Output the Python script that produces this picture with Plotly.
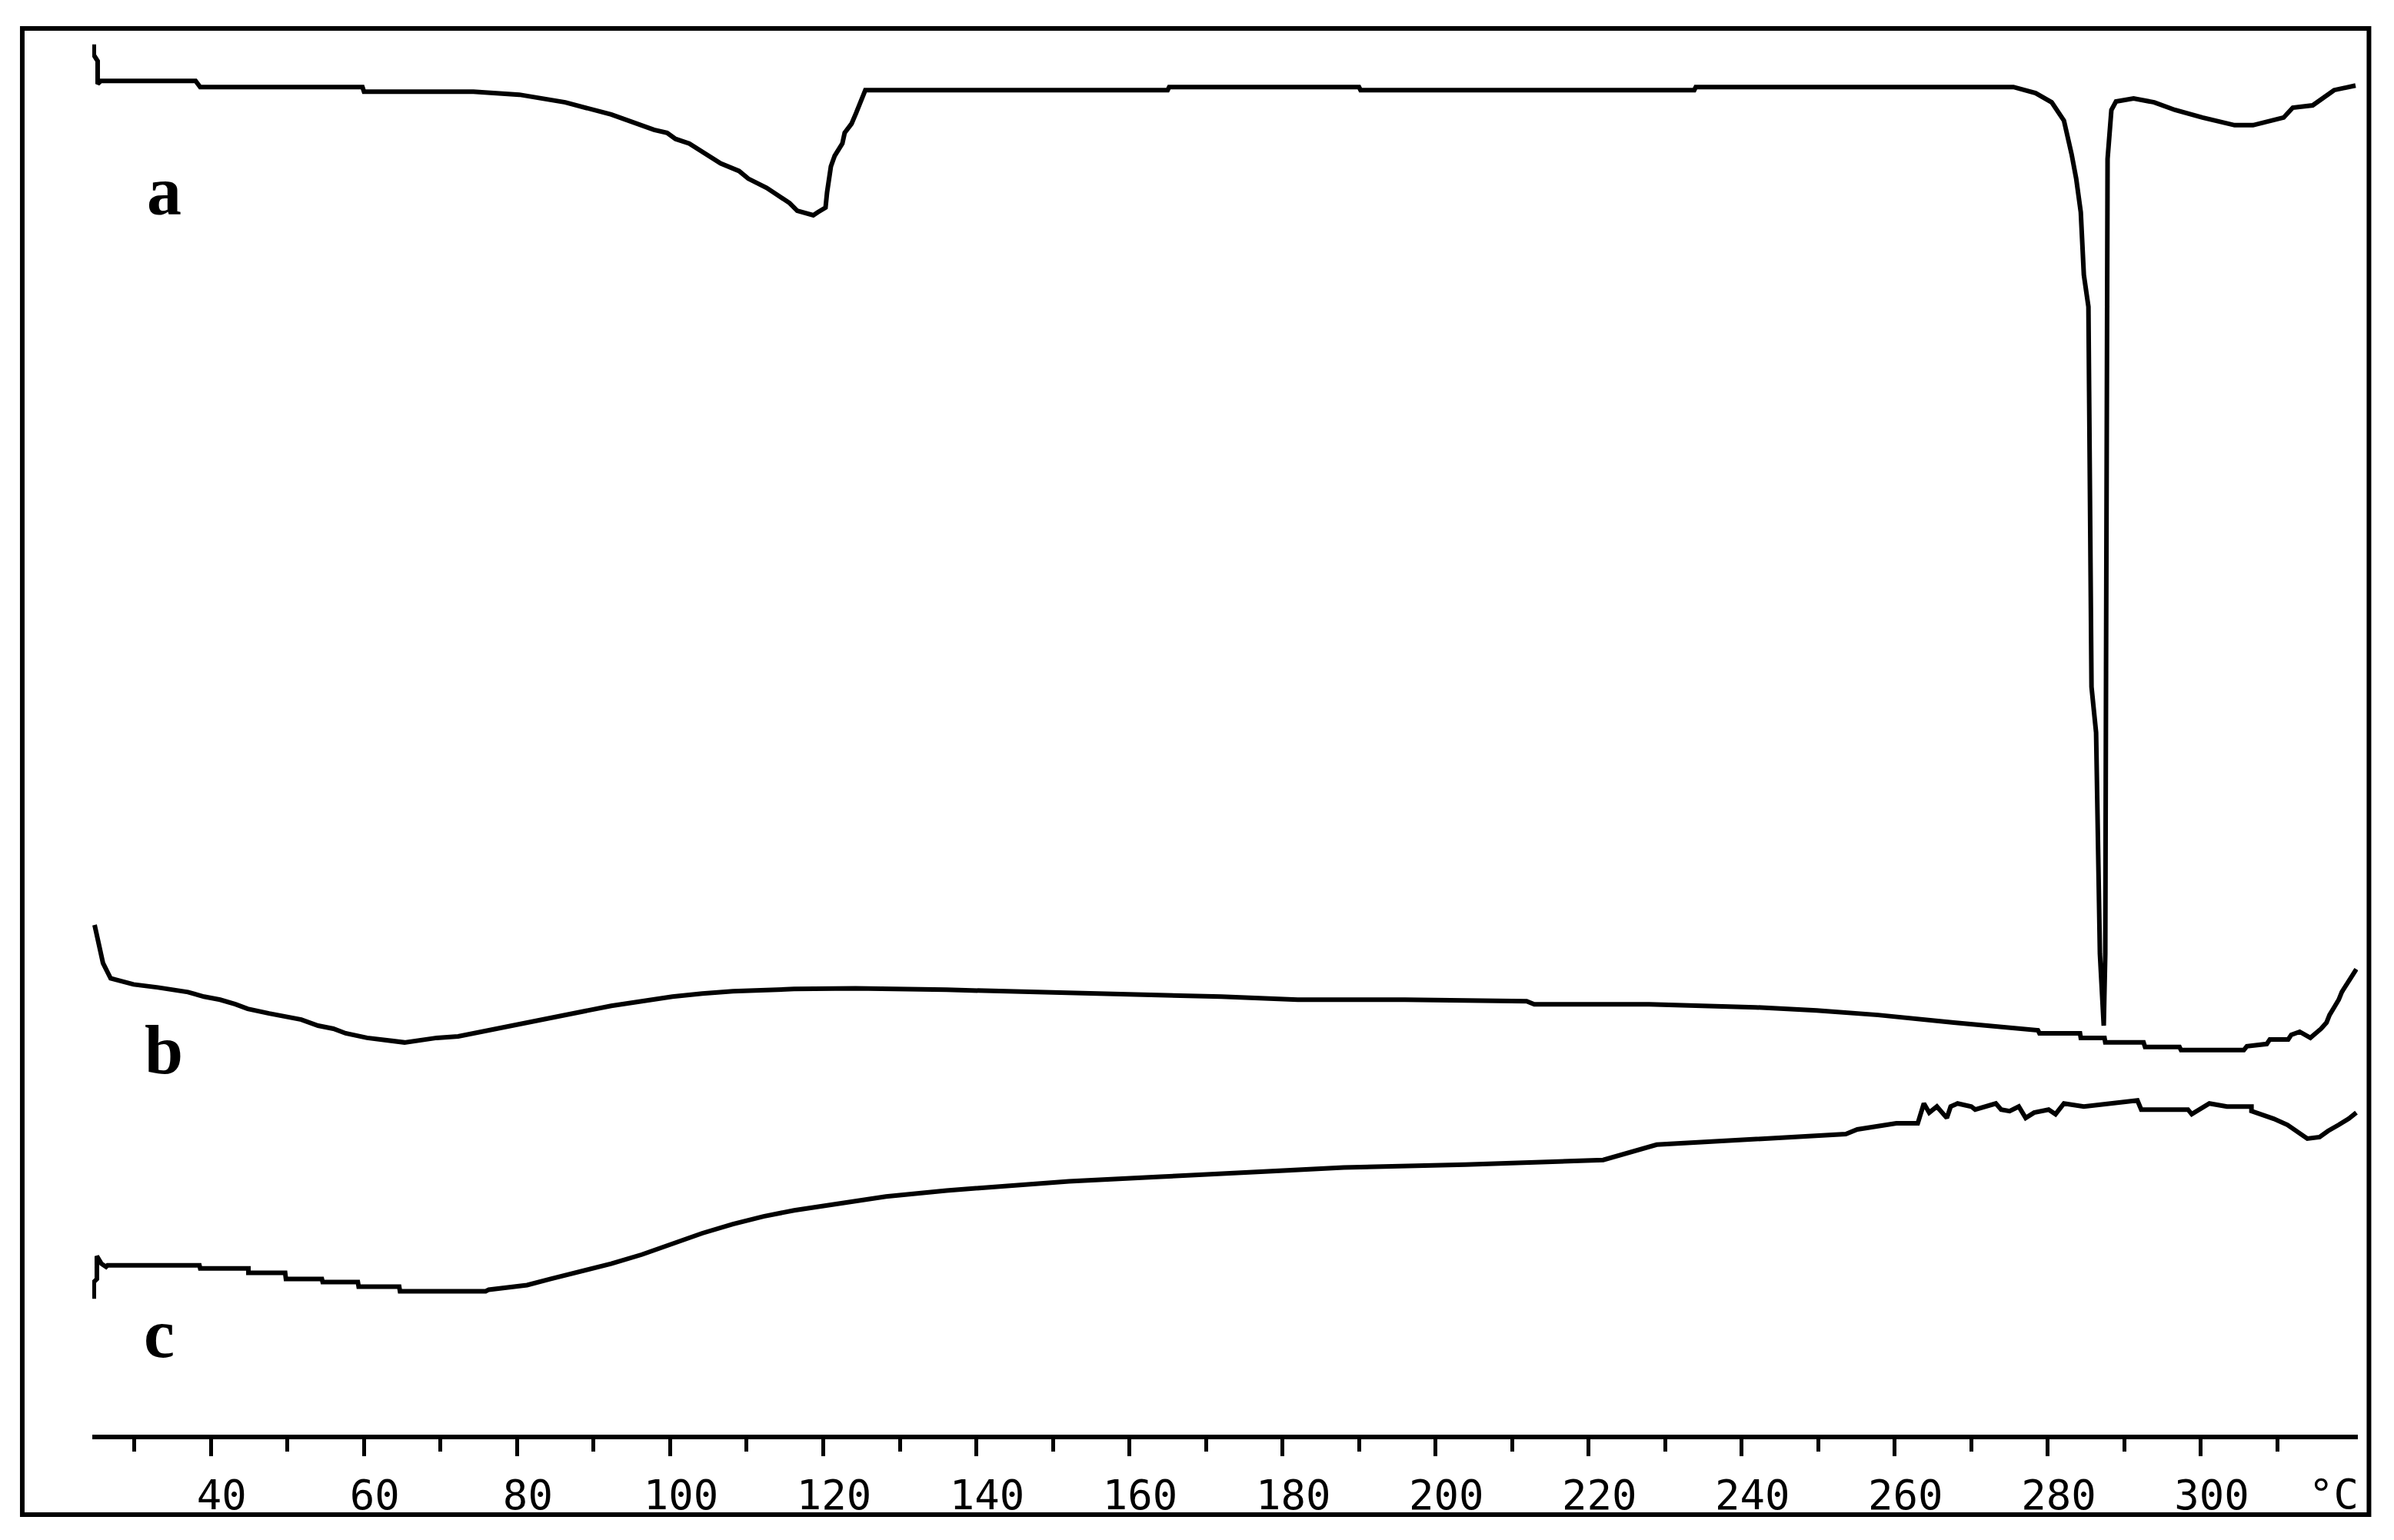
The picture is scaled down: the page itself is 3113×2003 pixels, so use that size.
import plotly.graph_objects as go

# DSC traces a, b, c  (temperature in degC, heat flow in arbitrary units)
temp_a = [24.7, 24.7, 25.2, 25.2, 25.6, 38.0, 38.6, 59.8, 60.0, 74.3, 80.3, 86.3, 92.3, 97.9,
          99.6, 100.7, 102.5, 104.6, 106.6, 109.0, 110.2, 112.6, 114.2, 115.6, 116.6, 118.7,
          119.3, 120.3, 120.5, 121.0, 121.5, 122.5, 122.8, 123.7, 124.3, 124.7, 125.2, 125.5,
          165.0, 165.2, 190.0, 190.2, 233.8, 234.0, 275.5, 278.4, 280.5, 282.1, 283.1, 283.7,
          284.3, 284.7, 285.3, 285.5, 285.7, 286.3, 286.8, 287.3, 287.5, 287.6, 287.7, 287.8,
          288.3, 288.9, 291.2, 293.9, 296.6, 300.2, 304.4, 306.8, 310.8, 312.0, 314.6, 317.4, 320.2]
dsc_a = [91.1, 90.4, 90.0, 88.5, 88.7, 88.7, 88.3, 88.3, 88.0, 88.0, 87.8, 87.3, 86.5, 85.5,
         85.3, 84.9, 84.6, 83.9, 83.3, 82.8, 82.3, 81.7, 81.2, 80.7, 80.2, 79.9,
         80.1, 80.4, 81.4, 83.1, 83.8, 84.6, 85.3, 85.9, 86.6, 87.1, 87.9, 88.1,
         88.1, 88.3, 88.3, 88.1, 88.1, 88.3, 88.3, 87.9, 87.3, 86.1, 83.9, 82.3,
         80.1, 76.0, 73.9, 64.0, 49.0, 46.0, 31.5, 26.8, 31.5, 50.0, 64.0, 83.6,
         86.8, 87.35, 87.55, 87.3, 86.8, 86.3, 85.8, 85.8, 86.3, 86.95, 87.1, 88.1, 88.4]

temp_b = [24.8, 25.4, 25.9, 26.9, 29.9, 33.1, 37.0, 39.1, 41.2, 43.2, 44.8, 47.6, 49.6, 51.8,
          54.0, 56.0, 57.6, 60.4, 65.3, 69.5, 72.3, 76.3, 80.3, 84.3, 88.3, 92.3, 96.3, 100.3,
          104.2, 108.2, 116.2, 124.2, 136.1, 148.1, 158.1, 172.0, 182.0, 196.0, 211.9, 212.9,
          227.9, 241.8, 249.8, 257.8, 267.7, 278.7, 278.9, 284.2, 284.3, 287.4, 287.5, 292.5,
          292.7, 297.2, 297.4, 305.6, 306.0, 308.6, 309.0, 311.4, 311.8, 312.9, 314.3, 314.8,
          315.7, 316.4, 316.8, 317.4, 318.0, 318.4, 319.3, 320.3]
dsc_b = [33.4, 31.9, 30.9, 29.9, 29.5, 29.3, 29.0, 28.7, 28.5, 28.2, 27.9, 27.6, 27.4, 27.2,
         26.8, 26.6, 26.3, 26.0, 25.7, 26.0, 26.1, 26.5, 26.9, 27.3, 27.7, 28.1, 28.4, 28.7,
         28.9, 29.05, 29.2, 29.25, 29.15, 29.0, 28.8, 28.7, 28.5, 28.5, 28.4, 28.2,
         28.2, 28.0, 27.8, 27.5, 27.0, 26.5, 26.3, 26.3, 26.0, 26.0, 25.7, 25.7,
         25.4, 25.4, 25.2, 25.2, 25.45, 25.6, 25.9, 25.9, 26.2, 26.4, 26.0, 26.2,
         26.6, 27.0, 27.5, 28.0, 28.5, 29.0, 29.7, 30.5]

temp_c = [24.7, 24.7, 25.1, 25.1, 25.7, 26.3, 26.5, 38.5, 38.6, 44.9, 44.9, 49.7, 49.8, 54.5,
          54.6, 59.2, 59.3, 64.6, 64.7, 75.9, 76.3, 81.3, 84.3, 88.3, 92.3, 96.3, 100.3, 104.2,
          108.2, 112.2, 116.2, 120.2, 124.2, 128.2, 136.1, 144.1, 152.1, 164.1, 176.0, 188.0,
          203.9, 221.9, 228.9, 247.8, 253.6, 255.1, 260.2, 263.0, 263.8, 264.5, 265.5, 266.8,
          267.3, 268.2, 270.0, 270.5, 273.2, 273.9, 275.0, 276.2, 277.1, 278.2, 280.1, 281.0,
          282.1, 284.7, 291.7, 292.2, 294.2, 298.3, 298.8, 301.1, 303.4, 306.6, 306.6, 309.5,
          311.3, 312.7, 313.9, 315.5, 316.6, 318.0, 319.3, 320.3]
dsc_c = [8.9, 10.0, 10.2, 11.7, 11.2, 11.0, 11.1, 11.1, 10.9, 10.9, 10.6, 10.6, 10.2, 10.2,
         10.0, 10.0, 9.7, 9.7, 9.4, 9.4, 9.5, 9.8, 10.2, 10.7, 11.2, 11.8, 12.5, 13.2,
         13.8, 14.3, 14.7, 15.0, 15.3, 15.6, 16.0, 16.3, 16.6, 16.9, 17.2, 17.5,
         17.7, 18.0, 19.0, 19.5, 19.7, 20.0, 20.4, 20.4, 21.7, 21.1, 21.5, 20.75,
         21.5, 21.7, 21.5, 21.3, 21.7, 21.3, 21.2, 21.5, 20.75, 21.1, 21.3, 21.0,
         21.7, 21.5, 21.9, 21.3, 21.3, 21.3, 21.0, 21.7, 21.5, 21.5, 21.2, 20.7,
         20.3, 19.8, 19.4, 19.5, 19.9, 20.3, 20.7, 21.1]

major_ticks = [40, 60, 80, 100, 120, 140, 160, 180, 200, 220, 240, 260, 280, 300]
minor_ticks = [30, 50, 70, 90, 110, 130, 150, 170, 190, 210, 230, 250, 270, 290, 310]
curve_names = ["a", "b", "c"]
label_pos = [(33.9, 81.5), (33.8, 25.2), (33.2, 6.65)]

fig = go.Figure()
for xs, ys, name in [(temp_a, dsc_a, "a"), (temp_b, dsc_b, "b"), (temp_c, dsc_c, "c")]:
    fig.add_trace(go.Scatter(x=xs, y=ys, mode="lines", name=name,
                             line=dict(color="black", width=6)))

for name, (lx, ly) in zip(curve_names, label_pos):
    fig.add_annotation(x=lx, y=ly, text="<b>" + name + "</b>", showarrow=False,
                       xanchor="center", yanchor="middle",
                       font=dict(family="Liberation Serif", size=90, color="black"))

tick_font = dict(family="DejaVu Sans Mono", size=54, color="black")
fig.add_annotation(x=317.3, y=-0.0421, xref="x", yref="paper", text="°C", showarrow=False,
                   xanchor="center", yanchor="middle", font=tick_font)

# outer frame
fig.add_shape(type="rect", xref="paper", yref="paper", x0=-0.0309, x1=1.0049,
              y0=-0.0569, y1=1.0, line=dict(color="black", width=6))

fig.update_xaxes(range=[24.5, 320.5], showline=True, linewidth=6, linecolor="black",
                 ticks="outside", ticklen=22, tickwidth=5, tickcolor="black",
                 tickmode="array", tickvals=major_ticks,
                 ticktext=[str(t) for t in major_ticks],
                 tickfont=tick_font, ticklabelshift=14, ticklabelstandoff=4,
                 showgrid=False, zeroline=False,
                 minor=dict(tickmode="array", tickvals=minor_ticks, ticks="outside",
                            ticklen=16, tickwidth=5, tickcolor="black", showgrid=False))
fig.update_yaxes(range=[0, 92.14], visible=False)

fig.update_layout(width=3097, height=1987, autosize=False, showlegend=False,
                  margin=dict(l=112, r=39, t=29, b=129),
                  paper_bgcolor="white", plot_bgcolor="white")

fig.write_html("out.html")
